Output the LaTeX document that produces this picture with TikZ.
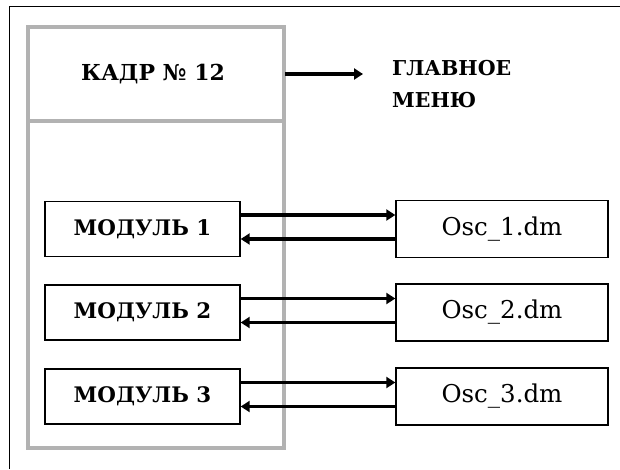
\documentclass[tikz,border=0pt]{standalone}
\usepackage{fontspec}
\setmainfont{DejaVu Serif}
\usetikzlibrary{arrows.meta, positioning}

\begin{document}
\begin{tikzpicture}[
  x=1pt, y=-1pt,
  every node/.style = {inner sep=0pt},
  modbox/.style = {
    draw, line width=1.4pt, minimum width=195pt, minimum height=55pt,
    font=\bfseries\fontsize{21.4}{24}\selectfont
  },
  filebox/.style = {
    draw, line width=1.4pt, minimum width=212pt, minimum height=57pt,
    font=\fontsize{24.5}{28}\selectfont
  },
  frameline/.style = {draw=black!30, line width=4pt},
  flow/.style = {-{Triangle[length=9pt, width=11pt]}, line width=3.2pt}
]
\useasboundingbox (0,0) rectangle (620,469);

% outer border, only top and left edges visible
\draw[line width=1.5pt] (9.5,469) -- (9.5,6.5) -- (620,6.5);

% screen frame
\draw[frameline] (28,27) rectangle (284,448);
\draw[frameline] (28,121) -- (284,121);

\node[minimum width=256pt, minimum height=94pt,
  font=\bfseries\fontsize{22}{26}\selectfont] (kadr) at (153,74) {КАДР №~12};
\node[anchor=west, align=left, font=\bfseries\fontsize{20.5}{32}\selectfont]
  (menu) at (392,84) {ГЛАВНОЕ\\МЕНЮ};

\draw[flow, shorten <=4pt, shorten >=29pt] (kadr.east) -- (kadr.east -| menu.west);

% modules and their files
\node[modbox] (mod1) at (142.5,229) {МОДУЛЬ 1};
\node[modbox] (mod2) at (142.5,312.5) {МОДУЛЬ 2};
\node[modbox] (mod3) at (142.5,396.5) {МОДУЛЬ 3};

\node[filebox] (osc1) at (502,229) {Osc\_1.dm};
\node[filebox] (osc2) at (502,312.5) {Osc\_2.dm};
\node[filebox] (osc3) at (502,396.5) {Osc\_3.dm};

\foreach \i in {1,2,3} {
  \draw[flow] ([yshift=14pt]mod\i.east) -- ([yshift=14pt]osc\i.west);
  \draw[flow] ([yshift=-10pt]osc\i.west) -- ([yshift=-10pt]mod\i.east);
}

\end{tikzpicture}
\end{document}
